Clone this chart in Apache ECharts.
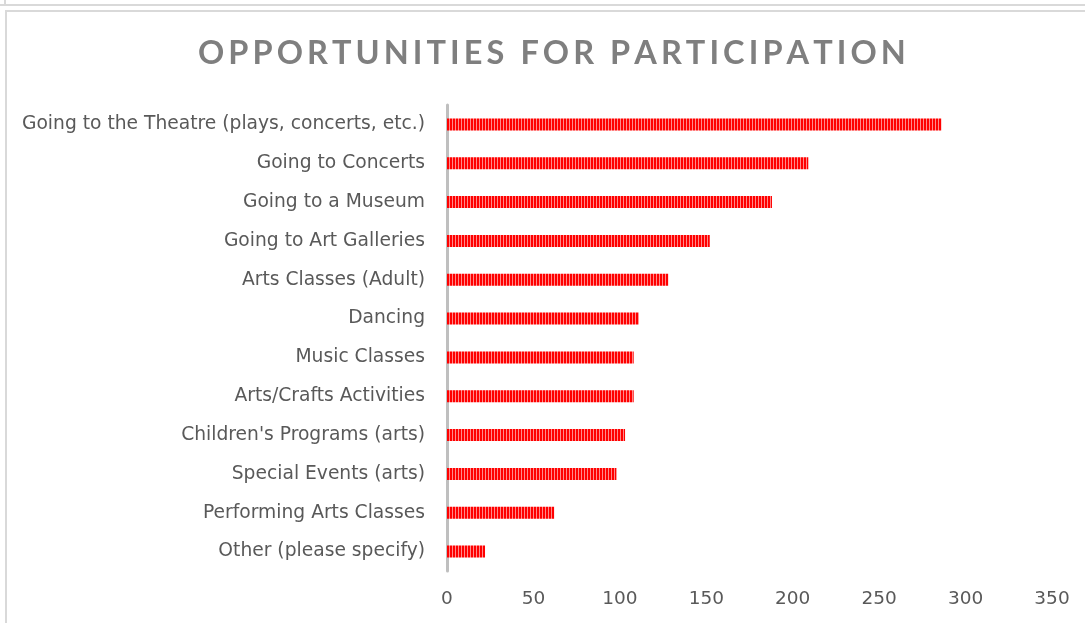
<!DOCTYPE html>
<html>
<head>
<meta charset="utf-8">
<script src="https://cdn.jsdelivr.net/npm/echarts@6/dist/echarts.min.js"></script>
<style>
html,body{margin:0;padding:0;background:#fff;}
#chart{width:1085px;height:623px;}
</style>
</head>
<body>
<div id="chart"></div>
<script>
const titleText = 'OPPORTUNITIES FOR PARTICIPATION';
const categories = [
  'Going to the Theatre (plays, concerts, etc.)',
  'Going to Concerts',
  'Going to a Museum',
  'Going to Art Galleries',
  'Arts Classes (Adult)',
  'Dancing',
  'Music Classes',
  'Arts/Crafts Activities',
  "Children's Programs (arts)",
  'Special Events (arts)',
  'Performing Arts Classes',
  'Other (please specify)'
];
const values = [286, 209, 188, 152, 128, 111, 108, 108, 103, 98, 62, 22];
const xTicks = [0, 50, 100, 150, 200, 250, 300, 350];

// stripe pattern
const pc = document.createElement('canvas');
pc.width = 3; pc.height = 4;
const pctx = pc.getContext('2d');
pctx.fillStyle = '#ff0000'; pctx.fillRect(0, 0, 2, 4);
pctx.fillStyle = '#ff8a8a'; pctx.fillRect(2, 0, 1, 4);

const spaced = titleText.split('').join('\u2009');

const chart = echarts.init(document.getElementById('chart'), null, {renderer: 'canvas'});
const font = '"DejaVu Sans", sans-serif';
chart.setOption({
  animation: false,
  backgroundColor: '#ffffff',
  title: {
    text: spaced,
    left: 198,
    top: 37,
    padding: 0,
    textStyle: {fontFamily: 'Lato, sans-serif', fontSize: 32.5, fontWeight: 'bold', color: '#7f7f7f'}
  },
  graphic: [
    {type: 'rect', shape: {x: 0, y: 4, width: 1085, height: 2}, style: {fill: '#d9d9d9'}},
    {type: 'rect', shape: {x: 4, y: 0, width: 2, height: 5}, style: {fill: '#d9d9d9'}},
    {type: 'rect', shape: {x: 5, y: 10, width: 1080, height: 2}, style: {fill: '#d9d9d9'}},
    {type: 'rect', shape: {x: 5, y: 10, width: 2, height: 613}, style: {fill: '#d9d9d9'}}
  ],
  grid: {left: 447, right: 33, top: 105, bottom: 52, containLabel: false},
  xAxis: {
    type: 'value',
    min: xTicks[0],
    max: xTicks[xTicks.length - 1],
    interval: xTicks[1] - xTicks[0],
    axisLine: {show: false},
    axisTick: {show: false},
    splitLine: {show: false},
    axisLabel: {fontFamily: font, fontSize: 18.5, color: '#595959', margin: 19}
  },
  yAxis: {
    type: 'category',
    data: categories,
    inverse: true,
    offset: 2,
    axisLine: {show: true, lineStyle: {color: '#bfbfbf', width: 3}},
    axisTick: {show: false},
    axisLabel: {fontFamily: font, fontSize: 18.7, color: '#595959', margin: 20}
  },
  series: [{
    type: 'bar',
    data: values,
    barWidth: 12,
    itemStyle: {color: {image: pc, repeat: 'repeat'}}
  }]
});
</script>
</body>
</html>
